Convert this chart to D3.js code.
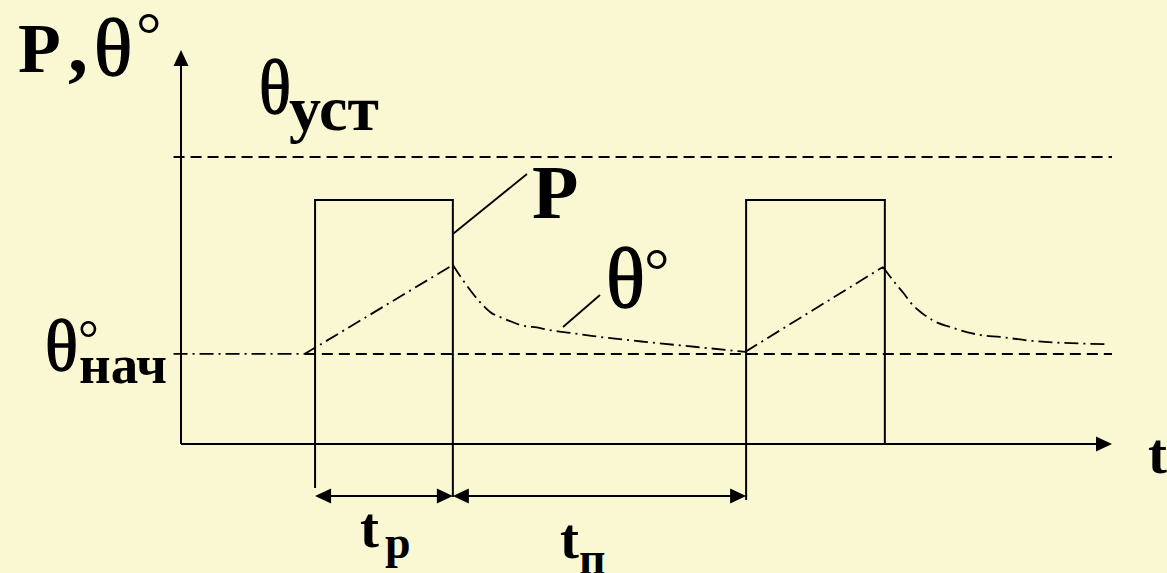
<!DOCTYPE html>
<html lang="ru">
  <head>
    <meta charset="UTF-8" />
    <title>P, θ — повторно-кратковременный режим</title>
    <script src="https://d3js.org/d3.v7.min.js"></script>
    <style>
      body { margin: 0; background: #faf8d2; }
      svg { display: block; }
      .lbl { font-family: "Liberation Serif", "Times New Roman", serif; fill: #000; }
      .b { font-weight: bold; }
      .th { stroke: #000; stroke-width: 1.3; }
    </style>
  </head>
  <body>
    <svg id="chart" width="1167" height="573"></svg>
    <script>
      // time axis 0..100, value axis 0..100 (θуст = 100)
      const pulseStart = [14.4, 60.7];
      const pulseEnd = [29.2, 75.6];
      const pulseLevel = 85;
      const thetaSteady = 100;
      const thetaInitial = 31.4;

      // θ(t)
      const thetaT = [-0.8, 13.3, 29.2, 30.5, 32.1, 33.2, 34.5, 35.6, 36.4, 38.6, 39.6, 41.8, 44.3, 50.1, 55.4, 60.6,
                      75.4, 76.7, 77.6, 78.6, 79.6, 80.7, 81.3, 82.6, 84.4, 85.8, 88.0, 91.5, 99.2];
      const thetaV = [31.4, 31.4, 62.4, 56.1, 49.5, 46.0, 43.9, 42.5, 41.5, 40.4, 39.7, 38.7, 37.6, 35.5, 33.8, 32.1,
                      61.7, 56.1, 52.6, 48.4, 45.6, 43.2, 42.2, 40.8, 39.0, 38.0, 37.3, 35.9, 34.8];
      // [from, to, smooth?]
      const thetaSegments = [[0, 2, false], [2, 15, true], [15, 16, false], [16, 28, true]];

      const svg = d3.select("#chart");
      const x = d3.scaleLinear().domain([0, 100]).range([181, 1112]);
      const y = d3.scaleLinear().domain([0, 100]).range([444, 157]);

      const ink = "#000";

      function arrow(tx, ty, dir) {
        // dir: "up" | "right" | "left"
        const L = 16, h = 7.5;
        let pts;
        if (dir === "up") pts = [[tx, ty], [tx - h, ty + L], [tx + h, ty + L]];
        else if (dir === "right") pts = [[tx, ty], [tx - L, ty - h], [tx - L, ty + h]];
        else pts = [[tx, ty], [tx + L, ty - h], [tx + L, ty + h]];
        svg.append("path").attr("d", "M" + pts.join("L") + "Z").attr("fill", ink);
      }

      // dashed reference lines
      svg.append("line")
        .attr("x1", x(-0.8)).attr("x2", x(100))
        .attr("y1", y(thetaSteady)).attr("y2", y(thetaSteady))
        .attr("stroke", ink).attr("stroke-width", 2).attr("stroke-dasharray", "11,6");
      svg.append("line")
        .attr("x1", x(thetaT[1])).attr("x2", x(100))
        .attr("y1", y(thetaInitial)).attr("y2", y(thetaInitial))
        .attr("stroke", ink).attr("stroke-width", 2).attr("stroke-dasharray", "11,6");

      // axes
      svg.append("line").attr("x1", x(0)).attr("x2", x(0))
        .attr("y1", y(0)).attr("y2", 62).attr("stroke", ink).attr("stroke-width", 2);
      arrow(x(0), 50, "up");
      svg.append("line").attr("x1", x(0)).attr("x2", x(100) - 12)
        .attr("y1", y(0)).attr("y2", y(0)).attr("stroke", ink).attr("stroke-width", 2);
      arrow(x(100), y(0), "right");

      // power pulses
      const ext = [44, 53, 56]; // how far the edges reach below the t axis (px)
      pulseStart.forEach((s, i) => {
        const e = pulseEnd[i];
        svg.append("path")
          .attr("d", `M${x(s)},${y(0) + (i === 0 ? ext[0] : ext[2])}V${y(pulseLevel)}H${x(e)}V${y(0) + (i === 0 ? ext[1] : 0)}`)
          .attr("fill", "none").attr("stroke", ink).attr("stroke-width", 2);
      });

      // θ curve, dash-dot
      let d = "";
      thetaSegments.forEach(([a, b, smooth]) => {
        const pts = d3.range(a, b + 1).map((k) => [x(thetaT[k]), y(thetaV[k])]);
        const gen = d3.line().curve(smooth ? d3.curveMonotoneX : d3.curveLinear);
        d += gen(pts);
      });
      svg.append("path").attr("d", d).attr("fill", "none").attr("stroke", ink)
        .attr("stroke-width", 1.8).attr("stroke-dasharray", "14,5,2,5");

      // duration dimensions
      const dimY = y(0) + 52;
      [[pulseStart[0], pulseEnd[0]], [pulseEnd[0], pulseStart[1]]].forEach(([a, b]) => {
        svg.append("line").attr("x1", x(a) + 10).attr("x2", x(b) - 10)
          .attr("y1", dimY).attr("y2", dimY).attr("stroke", ink).attr("stroke-width", 2);
        arrow(x(a), dimY, "left");
        arrow(x(b), dimY, "right");
      });

      // leader lines
      svg.append("line").attr("x1", x(pulseEnd[0])).attr("y1", 234).attr("x2", 527).attr("y2", 174)
        .attr("stroke", ink).attr("stroke-width", 1.8);
      svg.append("line").attr("x1", 563).attr("y1", 327).attr("x2", 600).attr("y2", 295)
        .attr("stroke", ink).attr("stroke-width", 1.8);

      // labels
      function txt(s, px, py, size, cls, len) {
        const t = svg.append("text").attr("class", "lbl " + (cls || ""))
          .attr("x", px).attr("y", py).attr("font-size", size).text(s);
        if (len) t.attr("textLength", len).attr("lengthAdjust", "spacingAndGlyphs");
        return t;
      }
      txt("P", 18, 72, 70, "b");
      txt(",", 68, 72, 80, "b");
      txt("θ", 94, 75, 80, "th");
      txt("°", 136, 56, 64);

      txt("θ", 259, 113, 76, "th", 32);
      txt("уст", 289, 130, 64, "b");

      txt("P", 532, 218, 76, "b");

      txt("θ", 606, 307, 84, "th", 39);
      txt("°", 644, 292, 64);

      txt("θ", 45, 370, 71, "th", 33);
      txt("°", 78, 356, 52);
      txt("нач", 79, 383, 55, "b");

      txt("t", 360, 547, 57, "b");
      txt("р", 385, 558, 46, "b");
      txt("t", 560, 558, 57, "b");
      txt("п", 579, 574, 46, "b");

      txt("t", 1148, 473, 57, "b");
    </script>
  </body>
</html>
